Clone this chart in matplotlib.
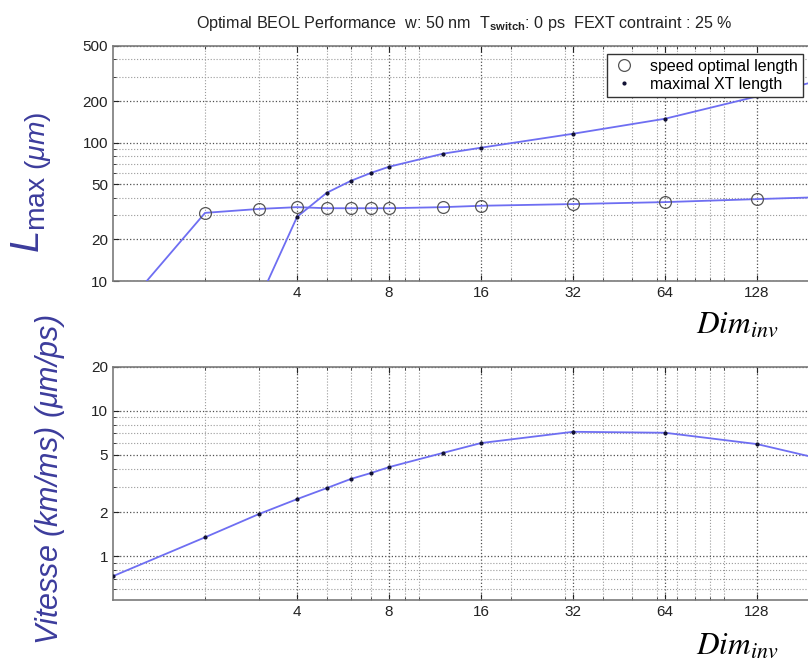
import numpy as np
import matplotlib
matplotlib.use("Agg")
import matplotlib.pyplot as plt
from matplotlib.ticker import FixedLocator, FixedFormatter, NullFormatter

plt.rcParams['font.family'] = ['Liberation Sans', 'DejaVu Sans']
plt.rcParams['mathtext.fontset'] = 'custom'
plt.rcParams['mathtext.rm'] = 'Liberation Sans'
plt.rcParams['mathtext.it'] = 'Liberation Sans:italic'
plt.rcParams['mathtext.bf'] = 'Liberation Sans:bold'

# data
dim_inv = [1, 2, 3, 4, 5, 6, 7, 8, 12, 16, 32, 64, 128, 256]
l_opt = [5.2, 31.1, 33.2, 34.2, 33.6, 33.6, 33.6, 33.6, 34.2, 35.0, 36.0, 37.2, 39.1, 41.0]
dim_xt = [3, 4, 5, 6, 7, 8, 12, 16, 32, 64, 128, 256]
l_xt = [7.2, 29.1, 43.4, 53.0, 60.6, 67.0, 83.2, 92.0, 116, 149, 216, 320]
vitesse = [0.73, 1.35, 1.95, 2.47, 2.94, 3.4, 3.74, 4.1, 5.13, 6.0, 7.17, 7.06, 5.9, 4.2]

x_ticks = [4, 8, 16, 32, 64, 128]
x_minor = [2, 3, 5, 6, 7, 9, 10, 20, 30, 40, 50, 60, 70, 80, 90, 100, 200]
top_yticks = [10, 20, 50, 100, 200, 500]
top_yminor = [30, 40, 60, 70, 80, 90, 300, 400]
bot_yticks = [1, 2, 5, 10, 20]
bot_yminor = [0.6, 0.7, 0.8, 0.9, 3, 4, 6, 7, 8, 9]

line_col = '#6e6ef2'
lab_col = '#3c3c9c'

fig = plt.figure(figsize=(8.08, 6.66), dpi=100)
ax1 = fig.add_axes([0.1399, 0.578, 0.911, 0.353])
ax2 = fig.add_axes([0.1399, 0.099, 0.911, 0.350])

def style(ax, yt, ym, ylim):
    ax.set_xscale('log')
    ax.set_yscale('log')
    ax.set_xlim(1, 256)
    ax.set_ylim(*ylim)
    ax.xaxis.set_major_locator(FixedLocator(x_ticks))
    ax.xaxis.set_major_formatter(FixedFormatter([str(v) for v in x_ticks]))
    ax.xaxis.set_minor_locator(FixedLocator(x_minor))
    ax.xaxis.set_minor_formatter(NullFormatter())
    ax.yaxis.set_major_locator(FixedLocator(yt))
    ax.yaxis.set_major_formatter(FixedFormatter([str(v) for v in yt]))
    ax.yaxis.set_minor_locator(FixedLocator(ym))
    ax.yaxis.set_minor_formatter(NullFormatter())
    ax.grid(True, which='major', linestyle=':', color='#505050', lw=0.9)
    ax.grid(True, which='minor', linestyle=':', color='#9a9a9a', lw=0.8)
    ax.tick_params(which='both', direction='in', top=True, right=True,
                   labelsize=11, colors='#222222')
    ax.tick_params(which='major', length=4)
    ax.tick_params(which='minor', length=2.5)
    for sp in ax.spines.values():
        sp.set_color('#7a7a7a')
        sp.set_linewidth(1.2)

style(ax1, top_yticks, top_yminor, (10, 500))
style(ax2, bot_yticks, bot_yminor, (0.5, 20))

# top panel
ax1.plot(dim_inv, l_opt, color=line_col, lw=1.3, zorder=3)
ax1.plot(dim_xt, l_xt, color=line_col, lw=1.3, zorder=3)
ax1.plot(dim_inv, l_opt, 'o', mfc='none', mec='#555555', ms=8.5, mew=0.9,
         label='speed optimal length', zorder=4)
ax1.plot(dim_xt, l_xt, '.', color='#111133', ms=4, label='maximal XT length', zorder=4)
leg = ax1.legend(loc='upper left', bbox_to_anchor=(0.66, 1.0), fontsize=11.5,
                 fancybox=False, framealpha=1, edgecolor='#333333',
                 borderpad=0.3, handletextpad=0.8, labelspacing=0.2, handlelength=1.6)
leg.get_frame().set_linewidth(1.0)

# bottom panel
ax2.plot(dim_inv, vitesse, color=line_col, lw=1.3, zorder=3)
ax2.plot(dim_inv, vitesse, '.', color='#111133', ms=4, zorder=4)

# titles and labels
fig.text(0.575, 0.965, r'Optimal BEOL Performance  w: 50 nm  T$_{\mathbf{switch}}$: 0 ps  FEXT contraint : 25 %',
         ha='center', va='center', fontsize=11.6, color='#222222')
fig.text(0.039, 0.726, r'$L_{\mathrm{max}\ (\mu m)}$', rotation=90, ha='center', va='center',
         fontsize=29, color=lab_col)
fig.text(0.062, 0.28, r'Vitesse (km/ms) ($\mu$m/ps)', rotation=90, ha='center', va='center',
         fontsize=22, style='italic', color=lab_col)
fig.text(0.862, 0.50, r'$Dim_{inv}$', ha='left', va='baseline', fontsize=22.5,
         math_fontfamily='stix', color='black')
fig.text(0.862, 0.018, r'$Dim_{inv}$', ha='left', va='baseline', fontsize=22.5,
         math_fontfamily='stix', color='black')

fig.savefig('out.png', dpi=100)
